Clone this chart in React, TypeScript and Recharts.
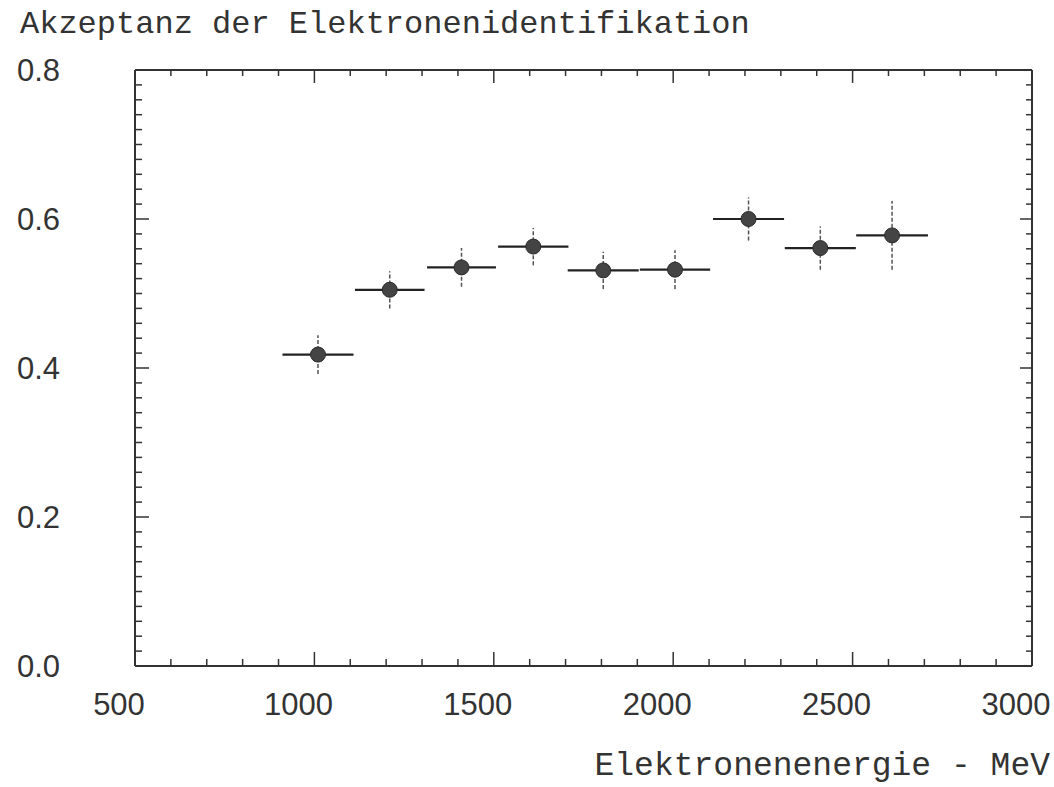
import React from 'react';
import { ScatterChart, Scatter, XAxis, YAxis, ErrorBar, Label } from 'recharts';

// electron energy (MeV), bin half-width, acceptance and its error
const energy = [1010, 1210, 1410, 1610, 1805, 2005, 2210, 2410, 2610];
const energyErr = [99, 97, 96, 98, 99, 98, 99, 99, 100];
const acceptance = [0.418, 0.505, 0.535, 0.563, 0.531, 0.532, 0.6, 0.561, 0.578];
const acceptanceErr = [0.026, 0.025, 0.026, 0.025, 0.025, 0.026, 0.029, 0.029, 0.046];

const xTicks = [
  500, 600, 700, 800, 900, 1000, 1100, 1200, 1300, 1400, 1500, 1600, 1700,
  1800, 1900, 2000, 2100, 2200, 2300, 2400, 2500, 2600, 2700, 2800, 2900, 3000,
];
const yTicks = [
  0, 0.02, 0.04, 0.06, 0.08, 0.1, 0.12, 0.14, 0.16, 0.18, 0.2, 0.22, 0.24, 0.26,
  0.28, 0.3, 0.32, 0.34, 0.36, 0.38, 0.4, 0.42, 0.44, 0.46, 0.48, 0.5, 0.52,
  0.54, 0.56, 0.58, 0.6, 0.62, 0.64, 0.66, 0.68, 0.7, 0.72, 0.74, 0.76, 0.78, 0.8,
];

const data = energy.map((e, i) => ({
  e,
  a: acceptance[i],
  ex: energyErr[i],
  ey: acceptanceErr[i],
}));

const INK = '#333';
const mono = '"Liberation Mono", "DejaVu Sans Mono", monospace';
const sans = '"Liberation Sans", Arial, sans-serif';

const isMajorX = (v: number) => v % 500 === 0;
const isMajorY = (v: number) => Math.abs(v * 5 - Math.round(v * 5)) < 1e-6;

const BottomTick = (props: any) => {
  const { x, y, payload } = props;
  const major = isMajorX(payload.value);
  return (
    <g>
      <line x1={x} y1={y} x2={x} y2={y - (major ? 14 : 7)} stroke={INK} strokeWidth={1.5} />
      {major && (
        <text x={x - 16} y={y + 49} textAnchor="middle" fontFamily={sans} fontSize={31} fill={INK}>
          {payload.value}
        </text>
      )}
    </g>
  );
};

const TopTick = (props: any) => {
  const { x, y, payload } = props;
  const major = isMajorX(payload.value);
  return <line x1={x} y1={y} x2={x} y2={y + (major ? 13 : 6)} stroke={INK} strokeWidth={1.5} />;
};

const LeftTick = (props: any) => {
  const { x, y, payload } = props;
  const major = isMajorY(payload.value);
  return (
    <g>
      <line x1={x} y1={y} x2={x + (major ? 14 : 7)} y2={y} stroke={INK} strokeWidth={1.5} />
      {major && (
        <text x={17} y={y + 11} textAnchor="start" fontFamily={sans} fontSize={31} fill={INK}>
          {payload.value.toFixed(1)}
        </text>
      )}
    </g>
  );
};

const RightTick = (props: any) => {
  const { x, y, payload } = props;
  const major = isMajorY(payload.value);
  return <line x1={x} y1={y} x2={x - (major ? 12 : 6)} y2={y} stroke={INK} strokeWidth={1.5} />;
};

const Dot = (props: any) => <circle cx={props.cx} cy={props.cy} r={7.5} fill="#444" stroke="#2a2a2a" strokeWidth={1} />;
const NoDot = () => <g />;

export default function App() {
  return (
    <div style={{ position: 'absolute', left: 0, top: 0, width: 1054, height: 787, background: '#fff' }}>
      <ScatterChart width={1054} height={787} margin={{ top: 0, right: 0, bottom: 0, left: 0 }}>
        <XAxis
          xAxisId="bottom"
          dataKey="e"
          type="number"
          domain={[500, 3000]}
          ticks={xTicks}
          interval={0}
          height={121}
          tickSize={0}
          tickMargin={0}
          tickLine={false}
          tick={<BottomTick />}
          axisLine={{ stroke: INK, strokeWidth: 2 }}
        >
          <Label
            content={() => (
              <text x={1050} y={775} textAnchor="end" fontFamily={mono} fontSize={33} fill={INK}>
                Elektronenenergie - MeV
              </text>
            )}
          />
        </XAxis>
        <XAxis
          xAxisId="top"
          orientation="top"
          dataKey="e"
          type="number"
          domain={[500, 3000]}
          ticks={xTicks}
          interval={0}
          height={70}
          tickSize={0}
          tickMargin={0}
          tickLine={false}
          tick={<TopTick />}
          axisLine={{ stroke: INK, strokeWidth: 2 }}
        >
          <Label
            content={() => (
              <text x={20} y={33} textAnchor="start" fontFamily={mono} fontSize={32} fill={INK}>
                Akzeptanz der Elektronenidentifikation
              </text>
            )}
          />
        </XAxis>
        <YAxis
          yAxisId="left"
          dataKey="a"
          type="number"
          domain={[0, 0.8]}
          ticks={yTicks}
          interval={0}
          width={135}
          tickSize={0}
          tickMargin={0}
          tickLine={false}
          tick={<LeftTick />}
          axisLine={{ stroke: INK, strokeWidth: 2 }}
        />
        <YAxis
          yAxisId="right"
          orientation="right"
          dataKey="a"
          type="number"
          domain={[0, 0.8]}
          ticks={yTicks}
          interval={0}
          width={22}
          tickSize={0}
          tickMargin={0}
          tickLine={false}
          tick={<RightTick />}
          axisLine={{ stroke: INK, strokeWidth: 2 }}
        />
        {/* invisible series so the top and right frame axes get their ticks */}
        <Scatter data={data} xAxisId="top" yAxisId="right" shape={<NoDot />} isAnimationActive={false} />
        <Scatter
          data={data}
          xAxisId="bottom"
          yAxisId="left"
          shape={<Dot />}
          isAnimationActive={false}
        >
          <ErrorBar dataKey="ex" direction="x" width={0} stroke="#222" strokeWidth={2.2} isAnimationActive={false} />
          <ErrorBar
            dataKey="ey"
            direction="y"
            width={0}
            stroke="#555"
            strokeWidth={1.5}
            strokeDasharray="4 2"
            isAnimationActive={false}
          />
        </Scatter>
      </ScatterChart>
    </div>
  );
}
